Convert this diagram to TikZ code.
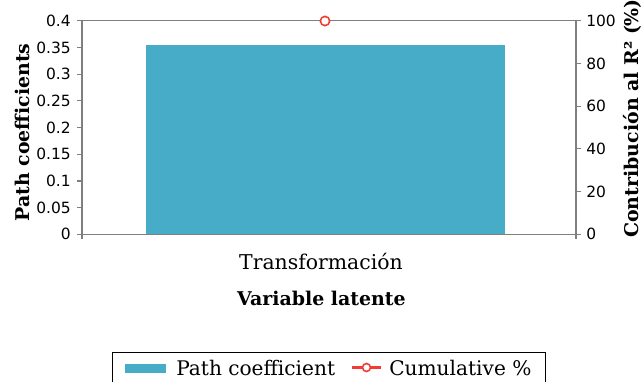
\documentclass[tikz,border=0pt]{standalone}
\usepackage{fontspec}
\setmainfont{DejaVu Serif}
\newfontfamily\ticksf{DejaVu Sans}
\definecolor{barblue}{HTML}{46ACC8}
\definecolor{axisgray}{HTML}{7F7F7F}
\definecolor{cumred}{HTML}{F03C32}
\begin{document}
\begin{tikzpicture}[x=0.75pt,y=-0.75pt,
  axisline/.style={draw=axisgray,line width=0.9pt},
  ticklbl/.style={font=\ticksf\fontsize{11.6}{13}\selectfont,inner sep=0pt},
  axtitle/.style={font=\bfseries\fontsize{14.2}{16}\selectfont,inner sep=0pt},
  catlbl/.style={font=\fontsize{15.3}{17}\selectfont,inner sep=0pt},
  legtext/.style={font=\fontsize{15.1}{17}\selectfont,inner sep=0pt,anchor=west},
  marker/.style={circle,draw=cumred,fill=white,line width=1.2pt,inner sep=0pt}]
\useasboundingbox (0,0) rectangle (643,382);
% bar
\fill[barblue] (145.5,234.3) rectangle (505,45);
% axes
\coordinate (bl) at (82,234.3);
\coordinate (tl) at (82,20.7);
\coordinate (br) at (576,234.3);
\coordinate (tr) at (576,20.7);
\draw[axisline] (tl) -- (bl) -- (br) -- (tr) -- cycle;
\draw[axisline] (bl) -- ++(0,5);
\draw[axisline] (br) -- ++(0,5);
% left ticks
\foreach \v/\t in {0/0,1/0.05,2/0.1,3/0.15,4/0.2,5/0.25,6/0.3,7/0.35,8/0.4}{
  \draw[axisline] (82,{234.3-\v*26.7}) -- ++(-5,0);
  \node[ticklbl,anchor=east] (l\v) at (71,{234.3-\v*26.7}) {\t};
}
% right ticks
\foreach \v/\t in {0/0,1/20,2/40,3/60,4/80,5/100}{
  \draw[axisline] (576,{234.3-\v*42.72}) -- ++(5,0);
  \node[ticklbl,anchor=west] (r\v) at (586,{234.3-\v*42.72}) {\t};
}
% cumulative marker
\node[marker,minimum size=7pt] (cum) at (325,21) {};
% axis titles
\node[axtitle,rotate=90] (ylab) at (22.5,132.5) {Path coefficients};
\node[axtitle,rotate=90,anchor=base west] (y2lab) at (638,238) {Contribución al R² (\%)};
\node[catlbl] (cat) at (321,261) {Transformación};
\node[axtitle] (xlab) at (321.5,298) {Variable latente};
% legend
\node[draw=black,line width=0.7pt,minimum width=324.75pt,minimum height=30pt,inner sep=0pt] (leg) at (328.5,372) {};
\fill[barblue] (125,364) rectangle (166,373);
\node[legtext] (lt1) at (176,368) {Path coefficient};
\coordinate (ls) at (352,367.5);
\coordinate (le) at (381,367.5);
\draw[cumred,line width=1.6pt] (ls) -- (le);
\node[marker,minimum size=6pt] (lm) at (366.5,367.5) {};
\node[legtext] (lt2) at (389,368) {Cumulative \%};
\end{tikzpicture}
\end{document}
